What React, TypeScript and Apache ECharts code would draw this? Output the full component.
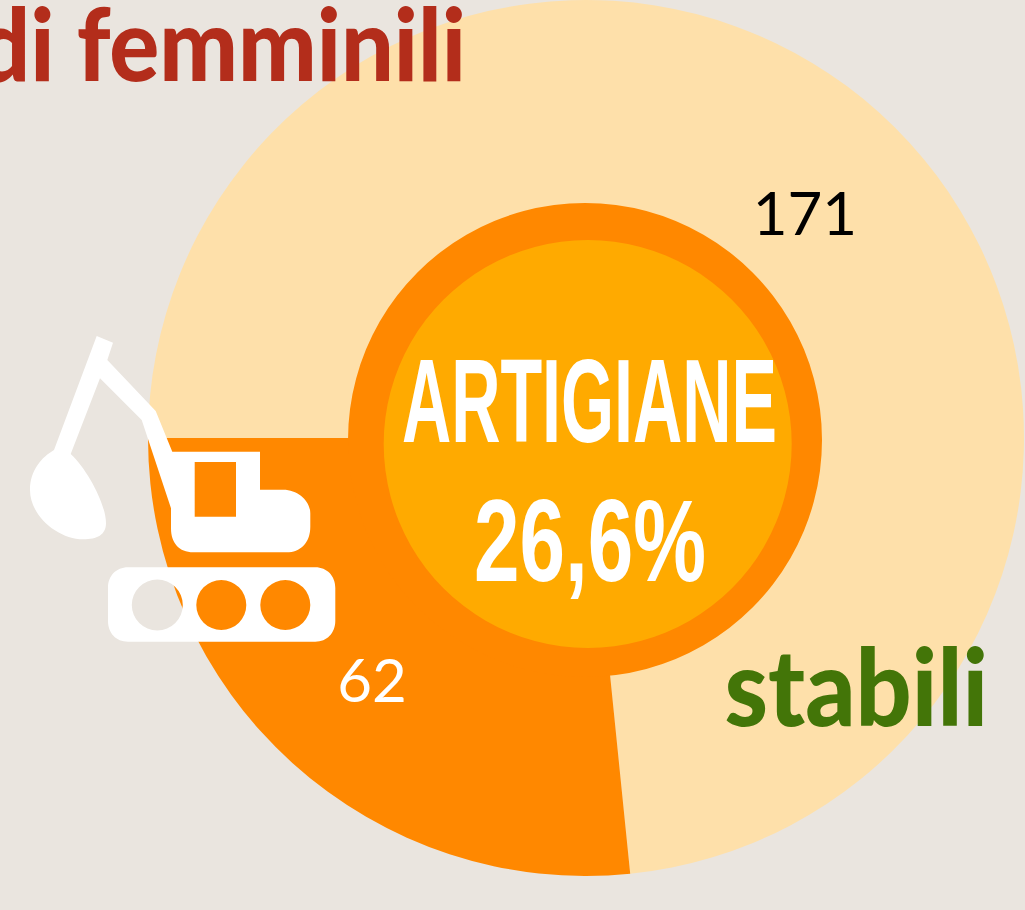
import React, { useEffect, useRef } from "react";
import * as echarts from "echarts";

const categories = ["stabili", "artigiane"];
const values = [171, 62];
const sliceColors = ["#FEE0AA", "#FF8800"];
const labelColors = ["#000000", "#FFFFFF"];
const centerTitle = "ARTIGIANE";
const centerValue = "26,6%";
const topTitle = "di femminili";
const sideTitle = "stabili";

const excavatorPath =
  "M96.7 336 L113 342.7 L107.3 360 L155.7 411 L172.3 451.7 L260 451.7 L260 489.7 L283.3 489.7 " +
  "C298 489.7 310.3 501 310.3 513.3 L310.3 526.7 C310.3 543 300 552.3 286.7 552.3 L193.3 552.3 " +
  "C179 552.3 171 543 171 528.3 L171 508.3 L141.7 420 L100 378.3 L70.7 454 " +
  "C88 470 106 505 106 523 C106 535 97 539.3 83.3 539.3 C58 539.3 30 516 30 490 C30 470 42 457 54 450 Z " +
  "M194.7 462 L194.7 516.7 L236 516.7 L236 462 Z " +
  "M128 567.3 L315.3 567.3 C327 567.3 335.3 576 335.3 588 L335.3 621 C335.3 633 327 641.7 315.3 641.7 " +
  "L128 641.7 C116 641.7 108 633 108 621 L108 588 C108 576 116 567.3 128 567.3 Z " +
  "M157.3 579.5 A25.5 25.5 0 0 0 157.3 630.5 A25.5 25.5 0 0 0 157.3 579.5 Z " +
  "M221.3 580 A25 25 0 0 0 221.3 630 A25 25 0 0 0 221.3 580 Z " +
  "M285.3 580 A25 25 0 0 0 285.3 630 A25 25 0 0 0 285.3 580 Z";

echarts.graphic.registerShape("excavator", echarts.graphic.extendPath(excavatorPath, {}));

const sans = '"Liberation Sans", sans-serif';
const brush = 'Lato, sans-serif';

export default function App() {
  const ref = useRef<HTMLDivElement>(null);
  useEffect(() => {
    const chart = echarts.init(ref.current!, undefined, { renderer: "svg", width: 1025, height: 910 });
    chart.setOption({
      animation: false,
      backgroundColor: "#EAE5DF",
      series: [
        {
          type: "pie",
          center: [586, 438],
          radius: [230, 438],
          startAngle: 180,
          clockwise: true,
          silent: true,
          labelLine: { show: false },
          data: categories.map((name, i) => ({
            name,
            value: values[i],
            itemStyle: { color: sliceColors[i] },
            label: {
              show: true,
              position: "inside",
              formatter: "{c}",
              color: labelColors[i],
              fontFamily: "Lato, sans-serif",
              fontSize: 60,
              offset: i === 0 ? [-7, 24] : [12, -9],
            },
          })),
        },
      ],
      graphic: [
        { type: "circle", z: 10, shape: { cx: 585, cy: 440, r: 237 }, style: { fill: "#FF8800" } },
        { type: "circle", z: 11, shape: { cx: 587.7, cy: 444, r: 204 }, style: { fill: "#FFAA00" } },
        {
          type: "text", z: 12, x: 589.5, y: 341, scaleX: 0.583, scaleY: 1.02,
          style: { text: centerTitle, fill: "#FFFFFF", font: `bold 117px ${sans}`, align: "center", verticalAlign: "top" },
        },
        {
          type: "text", z: 12, x: 590, y: 482, scaleX: 0.7, scaleY: 1,
          style: { text: centerValue, fill: "#FFFFFF", font: `bold 117px ${sans}`, align: "center", verticalAlign: "top" },
        },
        {
          type: "text", z: 12, x: 466, y: -9, scaleX: 1.014, scaleY: 1.1,
          style: { text: topTitle, fill: "#B32D1B", font: `900 92px ${brush}`, align: "right", verticalAlign: "top" },
        },
        {
          type: "text", z: 12, x: 988, y: 632, scaleX: 1.07, scaleY: 1.15,
          style: { text: sideTitle, fill: "#437508", font: `900 92px ${brush}`, align: "right", verticalAlign: "top" },
        },
        { type: "excavator", z: 13, x: 0, y: 0, style: { fill: "#FFFFFF" } },
      ],
    });
    return () => chart.dispose();
  }, []);
  return <div ref={ref} style={{ position: "fixed", left: 0, top: 0, width: 1025, height: 910 }} />;
}
